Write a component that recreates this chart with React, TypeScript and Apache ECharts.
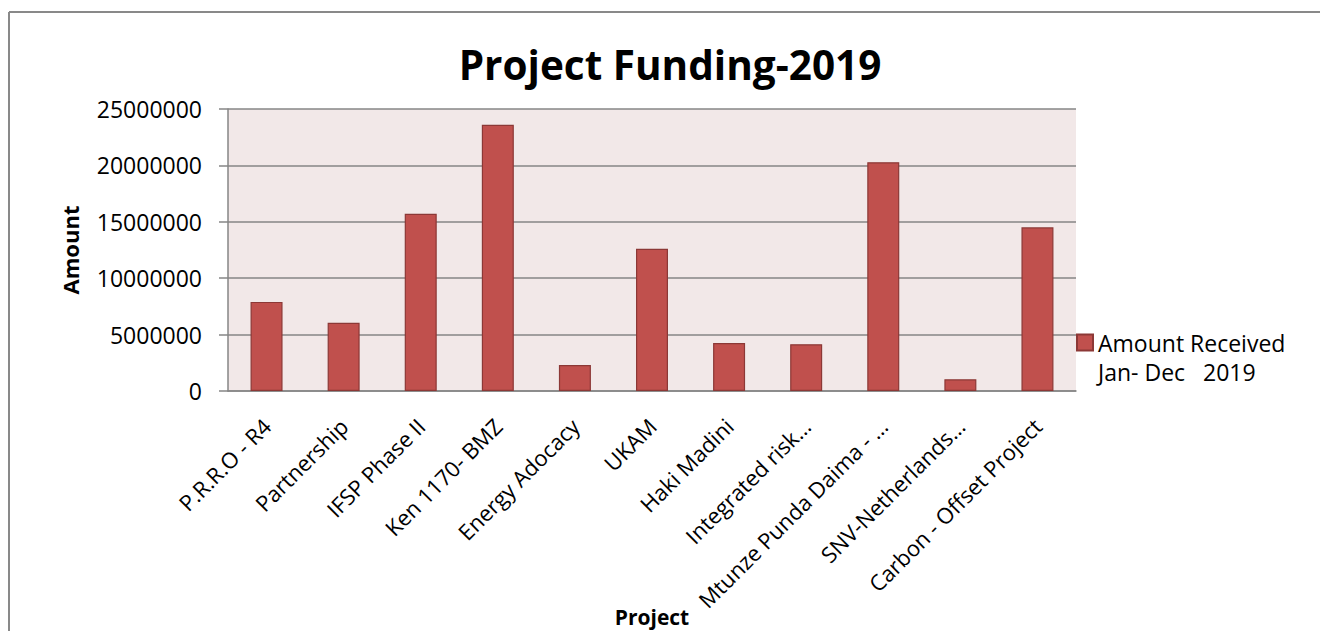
import React, { useEffect, useRef } from "react";
import * as echarts from "echarts";

const categories = [
  "P.R.R.O - R4",
  "Partnership",
  "IFSP Phase II",
  "Ken 1170- BMZ",
  "Energy Adocacy",
  "UKAM",
  "Haki Madini",
  "Integrated risk…",
  "Mtunze Punda Daima - …",
  "SNV-Netherlands…",
  "Carbon - Offset Project",
];

const amounts = [
  7900000, 6040000, 15720000, 23600000, 2310000, 12610000, 4260000, 4150000,
  20280000, 1040000, 14510000,
];

const seriesName = "Amount Received\nJan- Dec   2019";
const titleText = "Project Funding-2019";
const yAxisName = "Amount";
const xAxisName = "Project";

const FONT = "'Open Sans', 'Noto Sans', sans-serif";

export default function App() {
  const ref = useRef<HTMLDivElement>(null);

  useEffect(() => {
    if (!ref.current) return;
    const chart = echarts.init(ref.current, undefined, { renderer: "svg" });
    chart.setOption({
      animation: false,
      backgroundColor: "#ffffff",
      textStyle: { fontFamily: FONT },
      title: {
        text: titleText,
        left: 665,
        textAlign: "center",
        top: 39,
        textStyle: {
          fontFamily: FONT,
          fontWeight: "bold",
          fontSize: 40.5,
          color: "#000000",
        },
      },
      legend: {
        orient: "vertical",
        left: 1076,
        top: 299,
        padding: 0,
        itemWidth: 16,
        itemHeight: 16,
        icon: "rect",
        formatter: (name: string) => "\n" + name,
        textStyle: {
          fontFamily: FONT,
          fontSize: 23,
          color: "#000000",
          lineHeight: 29,
        },
        data: [seriesName],
      },
      grid: {
        left: 228,
        right: 244,
        top: 109,
        bottom: 240,
        show: true,
        backgroundColor: "#F2E8E8",
        borderWidth: 0,
        containLabel: false,
        outerBoundsMode: "none",
      },
      xAxis: {
        type: "category",
        data: categories,
        name: xAxisName,
        nameLocation: "middle",
        nameGap: 215,
        nameMoveOverlap: false,
        nameTextStyle: {
          fontFamily: FONT,
          fontWeight: "bold",
          fontSize: 21,
          color: "#000000",
        },
        axisLine: { show: true, lineStyle: { color: "#868686", width: 1.5 } },
        axisTick: { show: false },
        axisLabel: {
          interval: 0,
          rotate: 45,
          margin: 31,
          fontFamily: FONT,
          fontSize: 22,
          color: "#000000",
        },
        splitLine: { show: false },
      },
      yAxis: {
        type: "value",
        min: 0,
        max: 25000000,
        interval: 5000000,
        name: yAxisName,
        nameLocation: "middle",
        nameGap: 147,
        nameRotate: 90,
        nameMoveOverlap: false,
        nameTextStyle: {
          fontFamily: FONT,
          fontWeight: "bold",
          fontSize: 22,
          color: "#000000",
        },
        axisLine: { show: true, lineStyle: { color: "#868686", width: 1.5 } },
        axisTick: {
          show: true,
          length: 9,
          inside: false,
          lineStyle: { color: "#868686", width: 1.5 },
        },
        axisLabel: {
          margin: 26,
          fontFamily: FONT,
          fontSize: 23,
          color: "#000000",
          formatter: (v: number) => String(v),
        },
        splitLine: { show: true, lineStyle: { color: "#868686", width: 1.5 } },
      },
      series: [
        {
          name: seriesName,
          type: "bar",
          data: amounts,
          barWidth: 32,
          itemStyle: {
            color: "#C0504D",
            borderColor: "#8C3836",
            borderWidth: 1.2,
          },
        },
      ],
      graphic: [
        {
          type: "line",
          shape: { x1: 9, y1: 12, x2: 1320, y2: 12 },
          style: { stroke: "#898989", lineWidth: 2 },
          silent: true,
        },
        {
          type: "line",
          shape: { x1: 9, y1: 12, x2: 9, y2: 631 },
          style: { stroke: "#898989", lineWidth: 2 },
          silent: true,
        },
      ],
    });
    return () => chart.dispose();
  }, []);

  return (
    <div
      ref={ref}
      style={{
        position: "fixed",
        left: 0,
        top: 0,
        width: 1320,
        height: 631,
      }}
    />
  );
}
